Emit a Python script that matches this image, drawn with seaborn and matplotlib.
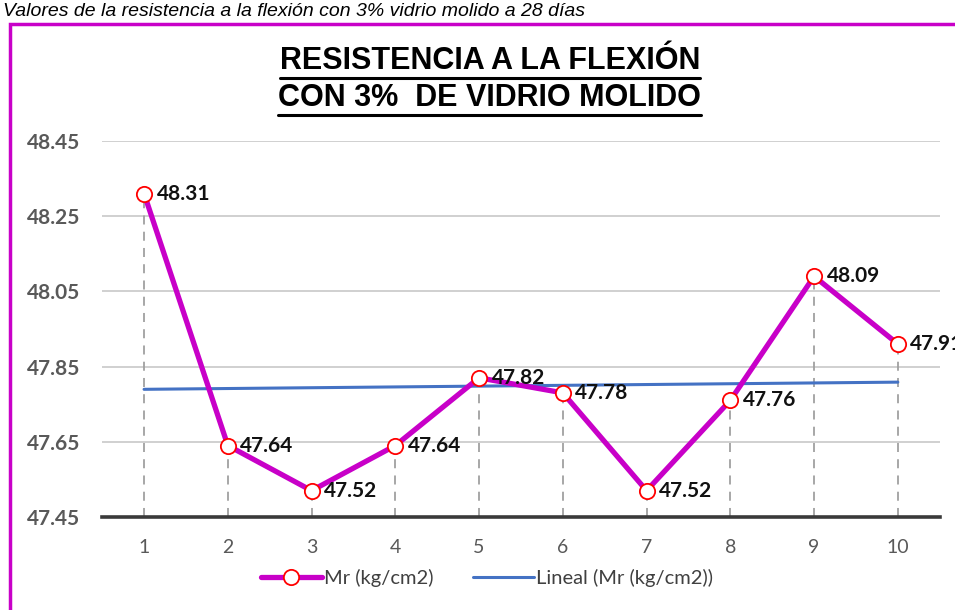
import numpy as np
import pandas as pd
import seaborn as sns
import matplotlib.pyplot as plt
from matplotlib.lines import Line2D
from matplotlib.patches import Rectangle

muestras = [1, 2, 3, 4, 5, 6, 7, 8, 9, 10]
mr = [48.31, 47.64, 47.52, 47.64, 47.82, 47.78, 47.52, 47.76, 48.09, 47.91]
y_ticks = [47.45, 47.65, 47.85, 48.05, 48.25, 48.45]

df = pd.DataFrame({'muestra': muestras, 'mr': mr})

sns.set_style('white')
plt.rcParams['font.family'] = ['Lato', 'DejaVu Sans']

fig = plt.figure(figsize=(9.55, 6.1), dpi=100)
ax = fig.add_axes([0.107, 0.1525, 0.877, 0.6165])

magenta = '#C800C8'
blue = '#4472C4'

# dashed drop lines
ax.vlines(df['muestra'], y_ticks[0], df['mr'], colors='#A0A0A0',
          linestyles=(0, (5, 4)), linewidth=1.3, zorder=1)

sns.regplot(data=df, x='muestra', y='mr', ax=ax, scatter=False, ci=None,
            truncate=True, line_kws=dict(color=blue, lw=2.2, zorder=2))

sns.lineplot(data=df, x='muestra', y='mr', ax=ax, color=magenta, lw=3.8,
             marker='o', markersize=11, markerfacecolor='white',
             markeredgecolor='#FF0000', markeredgewidth=1.3, zorder=3)

for xi, yi in zip(muestras, mr):
    ax.annotate(f'{yi:.2f}', (xi, yi), xytext=(9, 0), textcoords='offset points',
                ha='left', va='center', fontsize=15, fontweight='bold',
                color='#111111', zorder=4, annotation_clip=False)

ax.set_xlim(0.5, 10.5)
ax.set_ylim(y_ticks[0], y_ticks[-1])
ax.set_xticks(muestras)
ax.set_yticks(y_ticks)
ax.set_yticklabels([f'{t:.2f}' for t in y_ticks], fontweight='bold')
ax.tick_params(axis='y', length=0, pad=16, labelsize=15, labelcolor='#595959')
ax.tick_params(axis='x', length=0, pad=16, labelsize=14, labelcolor='#595959')
ax.set_xlabel('')
ax.set_ylabel('')
ax.grid(axis='y', color='#D0D0D0', lw=1.4)
ax.set_axisbelow(True)
for s in ['top', 'right', 'left']:
    ax.spines[s].set_visible(False)
ax.spines['bottom'].set_color('#3A3A3A')
ax.spines['bottom'].set_linewidth(2.6)

handles = [Line2D([], [], color=magenta, lw=3.8, marker='o', markersize=11,
                  markerfacecolor='white', markeredgecolor='#FF0000',
                  markeredgewidth=1.3),
           Line2D([], [], color=blue, lw=2.2)]
fig.legend(handles, ['Mr (kg/cm2)', 'Lineal (Mr (kg/cm2))'], loc='center',
           bbox_to_anchor=(0.51, 0.052), ncol=2, frameon=False, fontsize=14.5,
           labelcolor='#404040', handlelength=3.0, handletextpad=0.1,
           columnspacing=2.0)

# title with underline
tfam = ['Liberation Sans Narrow', 'Liberation Sans', 'DejaVu Sans']
t1 = fig.text(0.513, 0.9, 'RESISTENCIA A LA FLEXIÓN', ha='center', va='center',
              fontsize=22, fontweight='bold', family=tfam, color='black')
t2 = fig.text(0.513, 0.84, 'CON 3%  DE VIDRIO MOLIDO', ha='center', va='center',
              fontsize=22, fontweight='bold', family=tfam, color='black')
fig.canvas.draw()
r = fig.canvas.get_renderer()
for t in (t1, t2):
    bb = t.get_window_extent(r).transformed(fig.transFigure.inverted())
    fig.add_artist(Line2D([bb.x0, bb.x1], [bb.y0 - 0.004, bb.y0 - 0.004],
                          transform=fig.transFigure, color='black', lw=2.2))

# top caption and frame
fig.text(0.003, 1 - 16 / 610, 'Valores de la resistencia a la flexión con 3% vidrio molido a 28 días',
         ha='left', va='baseline', fontsize=14, style='italic',
         family=['Liberation Sans', 'DejaVu Sans'], color='black')
fig.add_artist(Rectangle((10 / 955, -0.1), 1.2, 1.1 - 24 / 610,
                         transform=fig.transFigure, fill=False,
                         edgecolor=magenta, lw=2.5))

fig.savefig('out.png', dpi=100)
